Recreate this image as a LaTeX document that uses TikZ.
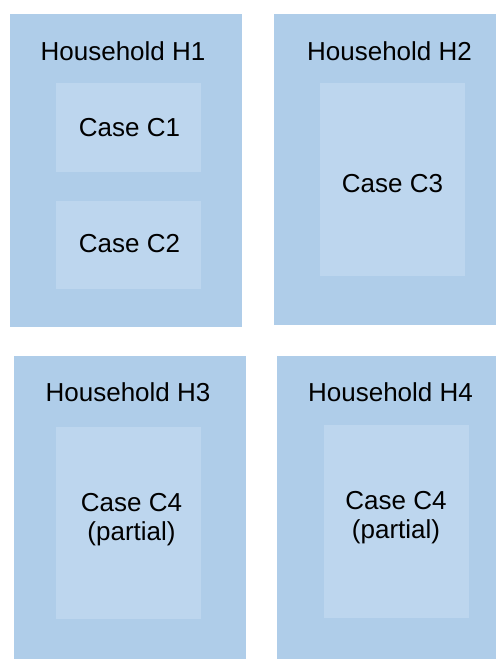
\documentclass[tikz,border=0pt]{standalone}
\usepackage{fontspec}
\setmainfont{Liberation Sans}
\definecolor{hhblue}{RGB}{175,205,233}
\definecolor{caseblue}{RGB}{189,214,238}
\begin{document}
\begin{tikzpicture}[x=1pt,y=-1pt,
  household/.style={fill=hhblue,draw=none},
  casebox/.style={fill=caseblue,draw=none},
  lbl/.style={anchor=base,inner sep=0pt,font=\fontsize{26}{29}\selectfont}]
\useasboundingbox (0,0) rectangle (496,659);

% households
\fill[household] (10,14) rectangle (242,327);
\fill[household] (274,14) rectangle (496,325);
\fill[household] (14,356) rectangle (246,659);
\fill[household] (277,356) rectangle (496,659);

% cases
\fill[casebox] (56,83) rectangle (201,172);
\fill[casebox] (56,201) rectangle (201,289);
\fill[casebox] (320,83) rectangle (465,276);
\fill[casebox] (56,427) rectangle (201,619);
\fill[casebox] (324,425) rectangle (469,618);

% labels
\node[lbl] (h1) at (123,60) {Household H1};
\node[lbl] (h2) at (389.5,60) {Household H2};
\node[lbl] (h3) at (128,401) {Household H3};
\node[lbl] (h4) at (390.5,401) {Household H4};
\node[lbl] (c1) at (129.5,136) {Case C1};
\node[lbl] (c2) at (129.5,252) {Case C2};
\node[lbl] (c3) at (392.5,192) {Case C3};
\node[lbl] (c4a) at (131.5,511) {Case C4};
\node[lbl] (p4a) at (131.5,540) {(partial)};
\node[lbl] (c4b) at (396,509) {Case C4};
\node[lbl] (p4b) at (396,538) {(partial)};
\end{tikzpicture}
\end{document}
